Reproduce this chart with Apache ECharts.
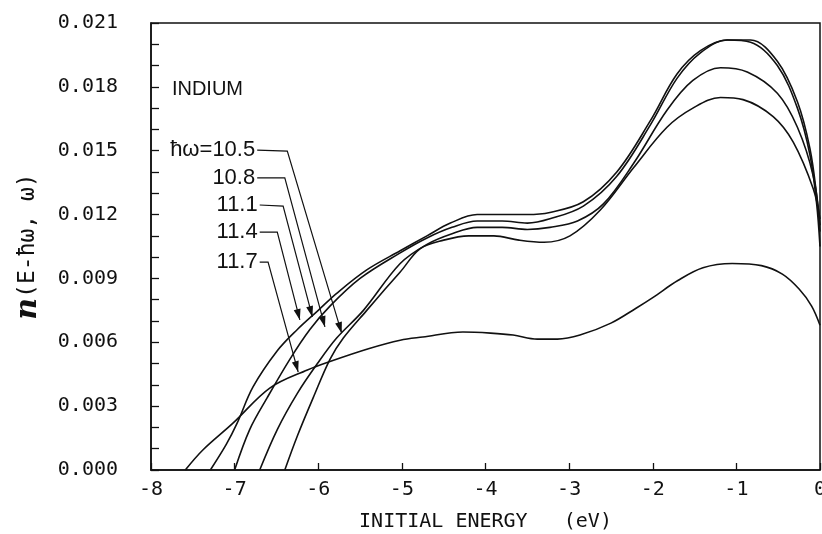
<!DOCTYPE html>
<html>
<head>
<meta charset="utf-8">
<script src="https://cdn.jsdelivr.net/npm/echarts@6/dist/echarts.min.js"></script>
<style>html,body{margin:0;padding:0;background:#fff;}#c{width:822px;height:534px;}</style>
</head>
<body>
<div id="c"></div>
<script>
// x = initial energy (eV), y = n(E-hw, w)
const hw105 = [[-6.40,0],[-6.25,0.0016],[-6.06,0.0034],[-5.86,0.0052],[-5.70,0.0062],[-5.42,0.0075],[-5.2,0.0085],[-5.02,0.0093],[-4.78,0.0104],[-4.5,0.0108],[-4.2,0.0110],[-3.9,0.0110],[-3.6,0.0108],[-3.3,0.0107],[-2.99,0.0110],[-2.63,0.0122],[-2.23,0.0142],[-1.83,0.0161],[-1.52,0.0170],[-1.19,0.0175],[-0.92,0.0174],[-0.56,0.0166],[-0.32,0.0154],[-0.08,0.0132],[0,0.0118]];
const hw108 = [[-6.70,0],[-6.49,0.0019],[-6.25,0.0036],[-6.01,0.0050],[-5.78,0.0062],[-5.46,0.0075],[-5.02,0.0097],[-4.7,0.0106],[-4.4,0.0111],[-4.1,0.0114],[-3.8,0.0114],[-3.5,0.0113],[-3.23,0.0114],[-2.9,0.0117],[-2.59,0.0125],[-2.23,0.0144],[-1.83,0.0169],[-1.52,0.0183],[-1.19,0.0189],[-0.87,0.0187],[-0.51,0.0177],[-0.27,0.0161],[-0.08,0.0138],[0,0.0115]];
const hw111 = [[-7.0,0],[-6.82,0.0019],[-6.61,0.0034],[-6.34,0.0052],[-6.10,0.0066],[-5.86,0.0077],[-5.5,0.0090],[-5.02,0.0102],[-4.7,0.0109],[-4.4,0.0114],[-4.1,0.0117],[-3.8,0.0117],[-3.5,0.0116],[-3.23,0.0118],[-2.83,0.0124],[-2.43,0.0138],[-2.03,0.0162],[-1.71,0.0184],[-1.43,0.0196],[-1.11,0.0202],[-0.83,0.0201],[-0.51,0.0190],[-0.27,0.0170],[-0.12,0.0148],[-0.04,0.0125],[0,0.0105]];
const hw114 = [[-7.29,0],[-7.1,0.0012],[-6.97,0.0022],[-6.78,0.0039],[-6.49,0.0056],[-6.25,0.0066],[-6.0,0.0075],[-5.78,0.0083],[-5.42,0.0094],[-5.02,0.0103],[-4.7,0.0110],[-4.42,0.0116],[-4.1,0.0120],[-3.83,0.0120],[-3.5,0.0120],[-3.23,0.0121],[-2.83,0.0126],[-2.43,0.0140],[-2.03,0.0164],[-1.71,0.0186],[-1.43,0.0197],[-1.11,0.0202],[-0.83,0.0202],[-0.51,0.0192],[-0.27,0.0173],[-0.12,0.0151],[-0.04,0.0129],[0,0.0112]];
const hw117 = [[-7.59,0],[-7.38,0.00094],[-7.02,0.0022],[-6.58,0.00385],[-6.13,0.0047],[-5.86,0.0051],[-5.4,0.0057],[-5.02,0.0061],[-4.75,0.00625],[-4.27,0.00648],[-3.94,0.00643],[-3.67,0.00634],[-3.38,0.00615],[-3.14,0.00615],[-2.87,0.00634],[-2.5,0.0069],[-2.2,0.0076],[-2.0,0.0081],[-1.7,0.0089],[-1.4,0.0095],[-1.05,0.0097],[-0.7,0.0096],[-0.45,0.0092],[-0.25,0.0085],[-0.1,0.0077],[0,0.0068]];

const seriesLabels = ['ħω=10.5', '10.8', '11.1', '11.4', '11.7'];
// leader lines for labels: [start, elbow, arrow tip] in data coords
const leaders = [
  [[-6.73,0.01503],[-6.37,0.01498],[-5.72,0.00643]],
  [[-6.73,0.01372],[-6.40,0.01372],[-5.92,0.00672]],
  [[-6.70,0.01245],[-6.42,0.01240],[-6.07,0.00719]],
  [[-6.70,0.01118],[-6.49,0.01118],[-6.22,0.00705]],
  [[-6.70,0.00977],[-6.60,0.00977],[-6.24,0.00460]]
];
const titleText = 'INDIUM';
const titlePos = [-7.75, 0.0179];

const chart = echarts.init(document.getElementById('c'));
const curves = [hw105, hw108, hw111, hw114, hw117];
const mono = '"DejaVu Sans Mono", monospace';

chart.setOption({
  animation: false,
  backgroundColor: '#fff',
  grid: {left: 151, right: 2, top: 23, bottom: 64, outerBoundsMode: 'none', containLabel: false,
    show: true, borderColor: '#111', borderWidth: 1.5, backgroundColor: 'transparent'},
  xAxis: {
    type: 'value', min: -8, max: 0, interval: 1,
    name: 'INITIAL ENERGY   (eV)', nameLocation: 'middle', nameGap: 42,
    nameTextStyle: {fontFamily: mono, fontSize: 20, color: '#111'},
    axisLine: {onZero: false, lineStyle: {color: '#111', width: 1.5}},
    axisTick: {inside: true, length: 7, lineStyle: {color: '#111', width: 1.3}},
    axisLabel: {fontFamily: mono, fontSize: 20, color: '#111', margin: 10},
    splitLine: {show: false}
  },
  yAxis: {
    type: 'value', min: 0, max: 0.021, interval: 0.001,
    name: '{n|n}(E-ħω, ω)', nameLocation: 'middle', nameGap: 108, nameRotate: 90,
    nameTextStyle: {fontFamily: mono, fontSize: 23, color: '#111',
      rich: {n: {fontFamily: '"DejaVu Serif", serif', fontStyle: 'italic', fontWeight: 'bold', fontSize: 30, color: '#111'}}},
    axisLine: {onZero: false, lineStyle: {color: '#111', width: 1.5}},
    axisTick: {inside: true, length: 8, lineStyle: {color: '#111', width: 1.3}},
    axisLabel: {fontFamily: mono, fontSize: 20, color: '#111', margin: 33,
      formatter: v => (Math.round(v * 1000) % 3 === 0 ? v.toFixed(3) : '')},
    splitLine: {show: false}
  },
  series: curves.map((d, i) => ({
    type: 'line', name: seriesLabels[i], data: d, symbol: 'none', smooth: 0.35,
    lineStyle: {color: '#111', width: 1.6}, silent: true
  }))
});

function drawAnnotations() {
  const g = [];
  const tp = chart.convertToPixel({gridIndex: 0}, titlePos);
  g.push({type: 'text', x: tp[0], y: tp[1], style: {text: titleText, fontFamily: '"Liberation Sans", Arial, sans-serif', fontSize: 20, fill: '#111', verticalAlign: 'middle', align: 'left'}});
  leaders.forEach((L, i) => {
    const p = L.map(q => chart.convertToPixel({gridIndex: 0}, q));
    g.push({type: 'polyline', shape: {points: p}, style: {stroke: '#111', lineWidth: 1.2, fill: null}});
    const a = p[1], b = p[2];
    const dx = b[0]-a[0], dy = b[1]-a[1], len = Math.hypot(dx, dy);
    const ux = dx/len, uy = dy/len, L1 = 11, W = 3.5;
    const base = [b[0]-ux*L1, b[1]-uy*L1];
    g.push({type: 'polygon', shape: {points: [b, [base[0]-uy*W, base[1]+ux*W], [base[0]+uy*W, base[1]-ux*W]]}, style: {fill: '#111'}});
    g.push({type: 'text', x: p[0][0] - 2, y: p[0][1], style: {text: seriesLabels[i], fontFamily: '"Liberation Sans", Arial, sans-serif', fontSize: 22, fill: '#111', align: 'right', verticalAlign: 'middle'}});
  });
  chart.setOption({graphic: g});
}
drawAnnotations();
</script>
</body>
</html>
